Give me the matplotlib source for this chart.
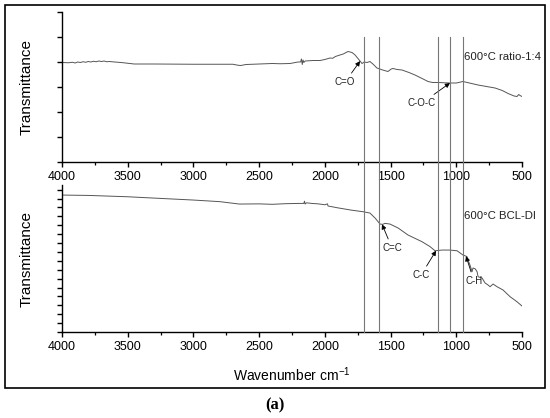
#FTIR spectra of the two carbons, stacked panels

import numpy as np
import matplotlib.pyplot as plt
from matplotlib.patches import Rectangle
from matplotlib.ticker import MultipleLocator

plt.rcParams['font.family'] = ['Liberation Sans', 'DejaVu Sans']
plt.rcParams['mathtext.default'] = 'regular'

#Spectrum data (wavenumber, transmittance a.u.)
wn_ratio = [4000, 3950, 3920, 3900, 3880, 3860, 3840, 3820, 3800, 3780, 3760, 3740, 3720,
            3700, 3680, 3660, 3640, 3600, 3550, 3500, 3450, 3300, 3000, 2800, 2700, 2660,
            2640, 2600, 2500, 2400, 2340, 2265, 2204, 2185, 2178, 2172, 2166, 2160, 2150,
            2090, 2037, 2000, 1961, 1940, 1920, 1885, 1860, 1824, 1793, 1770, 1748, 1717,
            1700, 1679, 1657, 1630, 1604, 1560, 1520, 1495, 1481, 1450, 1413, 1360, 1314,
            1260, 1215, 1180, 1139, 1048, 1000, 949, 900, 834, 770, 705, 650, 606, 560,
            538, 525, 515, 500]
tr_ratio = [1.99, 1.985, 1.995, 1.98, 2.0, 1.99, 2.005, 1.995, 2.01, 2.0, 2.015, 2.005, 2.02,
            2.01, 2.02, 2.005, 2.01, 2.0, 1.99, 1.975, 1.96, 1.96, 1.955, 1.955, 1.955, 1.935,
            1.93, 1.95, 1.96, 1.97, 1.965, 1.97, 2.0, 2.0, 2.06, 1.95, 2.04, 1.99, 2.02,
            2.03, 2.03, 2.05, 2.08, 2.075, 2.11, 2.14, 2.16, 2.21, 2.19, 2.14, 2.07, 1.97,
            2.0, 1.99, 2.01, 1.95, 1.88, 1.84, 1.81, 1.86, 1.87, 1.85, 1.84, 1.79, 1.74,
            1.67, 1.61, 1.59, 1.59, 1.58, 1.58, 1.61, 1.58, 1.54, 1.51, 1.48, 1.43, 1.37, 1.32,
            1.31, 1.35, 1.33, 1.31]

wn_bcl = [4000, 3800, 3600, 3500, 3300, 3000, 2800, 2650, 2500, 2400, 2300, 2200, 2160,
          2155, 2150, 2140, 2100, 2050, 2000, 1980, 1976, 1900, 1800, 1710, 1657, 1618,
          1580, 1560, 1542, 1504, 1443, 1367, 1261, 1200, 1162, 1109, 1050, 994, 949, 930,
          918, 911, 896, 880, 873, 856, 842, 834, 804, 781, 758, 743, 720, 690, 644, 591,
          538, 500]
tr_bcl = [15.39, 15.35, 15.25, 15.20, 15.05, 14.83, 14.65, 14.38, 14.40, 14.35, 14.42, 14.45,
          14.45, 14.70, 14.38, 14.52, 14.45, 14.40, 14.30, 14.40, 14.16, 13.95, 13.70, 13.52,
          13.37, 12.81, 12.13, 12.10, 12.21, 12.13, 11.69, 10.90, 10.15, 9.60, 9.13, 9.21,
          9.21, 9.13, 8.65, 8.55, 8.46, 8.09, 7.53, 6.78, 7.19, 7.10, 6.78, 6.21, 6.07, 5.51,
          5.28, 5.09, 5.39, 5.09, 4.72, 3.97, 3.40, 2.92]

#Marker lines for functional groups
band_lines = [1700, 1590, 1140, 1050, 950]
ticks_x = [4000, 3500, 3000, 2500, 2000, 1500, 1000, 500]

fig = plt.figure(figsize=(5.5, 4.18), dpi=100)
ax1 = fig.add_axes([0.1127, 0.6124, 0.8364, 0.3589])
ax2 = fig.add_axes([0.1127, 0.2057, 0.8364, 0.3517])

line_col = '#555555'
ax1.plot(wn_ratio, tr_ratio, color=line_col, lw=0.7)
ax2.plot(wn_bcl, tr_bcl, color=line_col, lw=0.7)

ax1.set_ylim(0, 3)
ax2.set_ylim(0, 16.52)
ax1.yaxis.set_major_locator(MultipleLocator(1))
ax1.yaxis.set_minor_locator(MultipleLocator(0.5))
ax2.yaxis.set_major_locator(MultipleLocator(2))
ax2.yaxis.set_minor_locator(MultipleLocator(1))

for ax in (ax1, ax2):
    ax.set_xlim(4000, 500)
    ax.set_xticks(ticks_x)
    ax.xaxis.set_minor_locator(MultipleLocator(250))
    ax.spines['top'].set_visible(False)
    ax.spines['right'].set_visible(False)
    ax.spines['left'].set_linewidth(1.0)
    ax.spines['bottom'].set_linewidth(1.0)
    ax.tick_params(axis='both', which='major', direction='out', length=3.5, width=1.0,
                   labelsize=9, pad=3)
    ax.tick_params(axis='y', which='minor', direction='out', length=3.5, width=1.0)
    ax.tick_params(axis='x', which='minor', direction='out', length=2.2, width=0.9)
    ax.set_yticklabels([])
    ax.set_ylabel('Transmittance', fontsize=11)
    ax.yaxis.set_label_coords(-0.062, 0.5)
    ax.patch.set_alpha(0)

ax2.set_xlabel('Wavenumber cm$^{-1}$', fontsize=10, labelpad=9)

#Vertical lines running through both panels
for b in band_lines:
    ax2.axvline(b, ymin=0, ymax=2.01, color='#777777', lw=0.8, clip_on=False, zorder=3)

arrow = dict(arrowstyle='-|>', color='black', lw=0.6, mutation_scale=7, shrinkA=1, shrinkB=0)
lab = dict(fontsize=7, ha='center', va='center', color='#222222')

ax1.annotate('C=O', xy=(1732, np.interp(1732, wn_ratio[::-1], tr_ratio[::-1])),
             xytext=(1846, 1.60), arrowprops=arrow, **lab)
ax1.annotate('C-O-C', xy=(1048, np.interp(1048, wn_ratio[::-1], tr_ratio[::-1])),
             xytext=(1261, 1.18), arrowprops=arrow, **lab)
ax2.annotate('C=C', xy=(1565, np.interp(1565, wn_bcl[::-1], tr_bcl[::-1])),
             xytext=(1489, 9.44), arrowprops=arrow, **lab)
ax2.annotate('C-C', xy=(1154, np.interp(1154, wn_bcl[::-1], tr_bcl[::-1])),
             xytext=(1268, 6.40), arrowprops=arrow, **lab)
ax2.annotate('C-H', xy=(926, np.interp(926, wn_bcl[::-1], tr_bcl[::-1])),
             xytext=(865, 5.73), arrowprops=arrow, **lab)

ax1.text(945, 2.10, '600°C ratio-1:4', fontsize=8.2, ha='left', va='center', color='#222222')
ax2.text(945, 13.03, '600°C BCL-DI', fontsize=8.2, ha='left', va='center', color='#222222')

#Outer frame and panel caption
fig.patches.append(Rectangle((0.009, 0.0718), 0.982, 0.916, transform=fig.transFigure,
                             fill=False, edgecolor='black', lw=1.2))
fig.text(0.5, 0.031, '(a)', fontsize=12, fontweight='bold', family='Liberation Serif',
         ha='center', va='center')

plt.savefig('out.png', dpi=100)
